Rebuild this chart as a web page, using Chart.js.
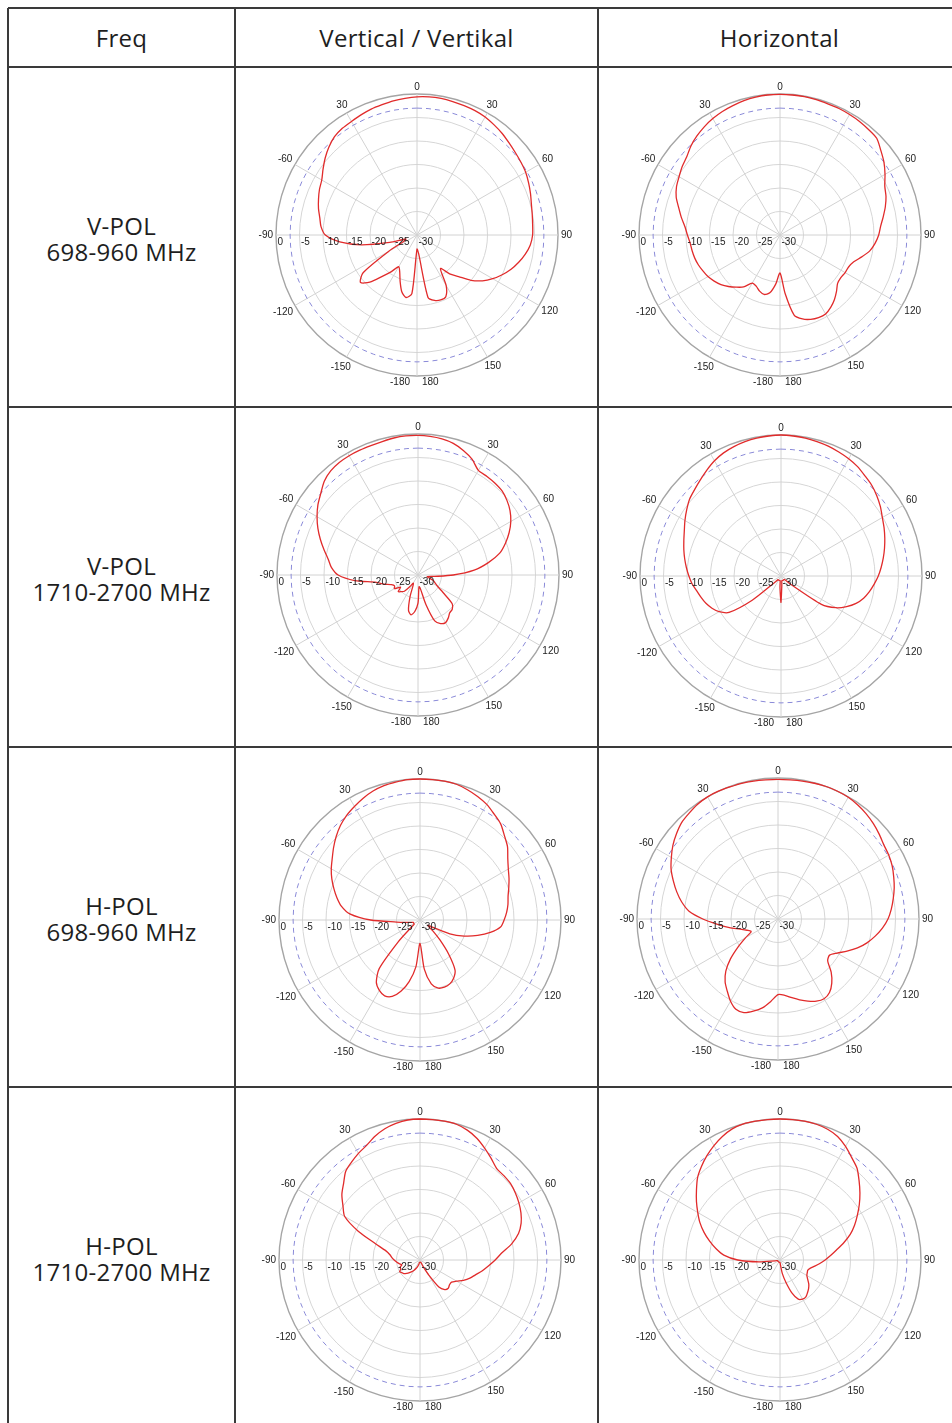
<!DOCTYPE html>
<html>
<head>
<meta charset="utf-8">
<script src="https://cdn.jsdelivr.net/npm/chart.js@4.4.1/dist/chart.umd.min.js"></script>
<style>
html, body { margin: 0; padding: 0; background: #fff; overflow: hidden; width: 952px; height: 1423px; }
#sheet { position: relative; width: 952px; height: 1423px; }
.line { position: absolute; background: #3a3a3a; }
.txt { position: absolute; display: flex; align-items: center; justify-content: center; text-align: center;
       font-family: "Open Sans", sans-serif; font-size: 24px; line-height: 26px; color: #1e1e1e; letter-spacing: 0.3px; }
canvas { position: absolute; }
</style>
</head>
<body>
<div id="sheet"></div>
<script>
// Data
const headers = ['Freq', 'Vertical / Vertikal', 'Horizontal'];
const rowTitles = [
  ['V-POL', '698-960 MHz'],
  ['V-POL', '1710-2700 MHz'],
  ['H-POL', '698-960 MHz'],
  ['H-POL', '1710-2700 MHz']
];

// azimuth in degrees, clockwise from top
const angles = [0, 5, 10, 15, 20, 25, 30, 35, 40, 45, 50, 55,
  60, 65, 70, 75, 80, 85, 90, 95, 100, 105, 110, 115,
  120, 125, 130, 135, 140, 145, 150, 155, 160, 165, 170, 175,
  180, 185, 190, 195, 200, 205, 210, 215, 220, 225, 230, 235,
  240, 245, 250, 255, 260, 265, 270, 275, 280, 285, 290, 295,
  300, 305, 310, 315, 320, 325, 330, 335, 340, 345, 350, 355];

const dbTicks = [0, -5, -10, -15, -20, -25, -30];
const angleTicks = ['0', '30', '60', '90', '120', '150', '-180 180', '-150', '-120', '-90', '-60', '30'];
const halfPower = -3;

// patterns in dB (one value per angle)
const vpolLowVert = [-0.6, -0.5, -0.5, -0.6, -0.7, -0.8, -1.0, -1.4, -1.8, -2.3, -2.7, -3.0,
  -3.3, -3.8, -4.3, -4.8, -5.1, -5.3, -5.4, -5.8, -6.6, -7.6, -8.7, -10.0,
  -11.4, -13.0, -15.0, -17.5, -19.2, -21.3, -17.6, -15.5, -15.3, -15.6, -16.5, -26,
  -27, -17.5, -16.5, -17.5, -19.5, -21.3, -22.2, -20.5, -18.5, -15.8, -14.3, -16,
  -23, -27, -27.5, -24, -18, -13.5, -10.5, -9.5, -9.0, -8.3, -7.7, -7.1,
  -6.6, -5.6, -4.5, -3.5, -2.7, -2.3, -2.1, -1.8, -1.5, -1.3, -1.0, -0.8];

const vpolLowHoriz = [-0.1, -0.1, -0.1, -0.2, -0.3, -0.3, -0.4, -0.5, -0.7, -0.9, -2.0, -3.0,
  -4.2, -5.4, -6.0, -6.8, -7.7, -8.5, -9.0, -9.7, -10.6, -12.0, -13.3, -13.9,
  -14.0, -14.2, -14.0, -13.0, -12.0, -11.2, -10.6, -10.6, -10.9, -11.5, -12.7, -17.5,
  -21.9, -19.5, -17.5, -16.9, -17.3, -18.0, -18.2, -16.5, -15.5, -14.5, -13.6, -12.9,
  -12.3, -11.9, -11.5, -11.2, -11.0, -10.8, -10.3, -9.7, -8.7, -7.7, -6.5, -5.7,
  -5.2, -4.6, -4.1, -3.2, -2.5, -1.9, -1.4, -1.0, -0.7, -0.4, -0.2, -0.1];

const vpolHighVert = [-0.3, -0.4, -0.6, -1.0, -1.8, -2.8, -4.3, -4.4, -4.5, -4.7, -5.3, -6.1,
  -7.2, -8.6, -10.2, -12.0, -14.8, -18, -22.5, -26.5, -28, -27.5, -26.5, -26,
  -25.2, -23.5, -20.5, -19.7, -19.5, -18.8, -18.3, -18.6, -19.6, -23.5, -27, -27.5,
  -24, -22.2, -21.4, -22.2, -25, -27.5, -28, -27, -25.5, -25, -24.5, -25.5,
  -24.2, -24.5, -24, -22.5, -21, -16.5, -13, -11.5, -10.6, -9.3, -7.9, -6.5,
  -5.2, -4.0, -3.0, -1.8, -1.1, -0.8, -0.7, -0.7, -0.7, -0.6, -0.4, -0.3];

const vpolHighHoriz = [0, -0.1, -0.2, -0.4, -0.6, -0.9, -1.2, -1.6, -2.2, -2.7, -3.4, -4.2,
  -5.1, -5.8, -6.5, -7.2, -7.9, -8.6, -9.3, -10.1, -10.9, -11.8, -13.0, -14.6,
  -16.5, -19.5, -27, -29, -29, -29, -29, -29, -29, -29, -29, -28,
  -24.4, -27.5, -29, -29, -29, -29, -29, -29, -29, -28, -22, -16.5,
  -14.8, -13.8, -13.0, -12.4, -11.8, -11.0, -10.4, -9.8, -9.2, -8.6, -8.0, -7.3,
  -6.4, -5.5, -4.6, -4.0, -3.3, -2.5, -1.7, -1.1, -0.7, -0.4, -0.2, -0.1];

const hpolLowVert = [0, 0, 0, -0.1, -0.5, -1.0, -1.6, -2.5, -3.3, -4.6, -5.7, -7.2,
  -8.3, -9.1, -9.9, -10.6, -11.0, -11.5, -12.1, -12.8, -14.8, -17.3, -20, -23,
  -27, -28, -26.5, -24, -20.5, -17, -15.7, -15.0, -14.8, -15.0, -16.2, -19.5,
  -25, -20, -16.7, -14.3, -12.7, -12.2, -12.7, -13.8, -16.5, -23.5, -27.5, -28.5,
  -28.5, -28.5, -28.5, -28, -27, -25, -19.5, -15, -13, -11.7, -10.5, -9.3,
  -8.2, -7.2, -6.0, -4.8, -3.7, -2.8, -2.1, -1.4, -0.8, -0.4, -0.2, 0];

const hpolLowHoriz = [-0.3, -0.3, -0.2, -0.1, 0, 0, -0.1, -0.4, -0.8, -1.3, -1.9, -2.5,
  -2.8, -3.2, -3.8, -4.4, -5.1, -5.8, -6.6, -7.7, -9.0, -10.4, -12.0, -13.8,
  -15.5, -16.6, -16.2, -14.0, -12.2, -10.9, -10.4, -10.7, -11.4, -12.2, -13.0, -13.7,
  -13.9, -12.4, -10.8, -9.7, -8.8, -8.8, -9.8, -11.2, -12.5, -14.3, -16.8, -19.6,
  -22, -23.7, -23, -21.7, -19.5, -17.1, -14, -11, -9.2, -7.7, -6.3, -4.9,
  -3.8, -2.7, -1.8, -1.0, -0.6, -0.2, 0, 0, -0.1, -0.1, -0.2, -0.3];

const hpolHighVert = [0, 0, 0, -0.1, -0.6, -1.4, -2.5, -3.6, -4.6, -4.7, -4.8, -5.2,
  -5.7, -6.3, -7.1, -8.3, -10.2, -12.5, -14.0, -15.4, -16.6, -17.8, -18.7, -19.8,
  -21, -21.8, -21.8, -21.5, -21.8, -23, -26.5, -28.5, -29.5, -29.5, -29.5, -29.5,
  -29.5, -29.5, -29.5, -29, -28.5, -28, -27.5, -27, -26.5, -26, -25.5, -25.3,
  -25.0, -25.5, -25.5, -26, -25.5, -25, -24.5, -24, -23.5, -22.5, -20, -15.5,
  -11.5, -10.0, -8.3, -7.0, -5.4, -4.6, -3.8, -3.1, -2.0, -1.1, -0.5, -0.1];

const hpolHighHoriz = [0, 0, 0, -0.1, -0.4, -1.0, -2.1, -3.4, -4.5, -6.2, -7.8, -9.4,
  -11, -12.5, -14.1, -16, -17.8, -19.2, -20.4, -21.5, -22.5, -23.3, -23.7, -23.6,
  -23.4, -22.8, -22.0, -21.4, -20.9, -20.4, -20.4, -20.8, -22.5, -25, -27, -29,
  -29.5, -29.5, -29.5, -29.5, -29.5, -29.5, -29.5, -29.5, -29.5, -29.5, -29.5, -29.5,
  -29.5, -29.5, -29.5, -29.5, -29, -25.5, -21, -18, -16.2, -14.5, -12.8, -11.2,
  -9.8, -8.3, -6.8, -5.2, -4.0, -2.9, -1.9, -1.0, -0.3, 0, 0, 0];

const patterns = [vpolLowVert, vpolLowHoriz, vpolHighVert, vpolHighHoriz,
  hpolLowVert, hpolLowHoriz, hpolHighVert, hpolHighHoriz];

// Layout
const colX = [8, 235, 598, 961];
const rowY = [8, 67, 407, 747, 1087, 1427];
const centers = [[417, 235], [780, 235], [418, 575], [781, 576],
  [420, 920], [778, 919], [420, 1260], [780, 1260]];
const CANVAS = 340, RADIUS = 141;

const sheet = document.getElementById('sheet');

function addLine(x, y, w, h) {
  const d = document.createElement('div');
  d.className = 'line';
  d.style.left = x + 'px'; d.style.top = y + 'px';
  d.style.width = w + 'px'; d.style.height = h + 'px';
  sheet.appendChild(d);
}
colX.forEach(x => addLine(x - 0.75, rowY[0], 1.5, rowY[rowY.length - 1] - rowY[0]));
rowY.forEach(y => addLine(colX[0], y - 0.75, colX[colX.length - 1] - colX[0], 1.5));

function addText(html, x0, x1, y0, y1) {
  const d = document.createElement('div');
  d.className = 'txt';
  d.style.left = x0 + 'px'; d.style.width = (x1 - x0) + 'px';
  d.style.top = y0 + 'px'; d.style.height = (y1 - y0) + 'px';
  d.innerHTML = html;
  sheet.appendChild(d);
}
headers.forEach((h, i) => addText(h, colX[i], colX[i + 1], rowY[0], rowY[1]));
rowTitles.forEach((t, i) => addText(t.join('<br>'), colX[0], colX[1], rowY[i + 1] + 2, rowY[i + 2] + 2));

// labels around the polar plot
const polarLabels = {
  id: 'polarLabels',
  afterDraw(chart) {
    const r = chart.scales.r;
    const ctx = chart.ctx;
    ctx.save();
    ctx.font = '10px "Liberation Sans", Arial, sans-serif';
    ctx.fillStyle = '#222';

    // dB ticks along the left radius
    ctx.textAlign = 'left';
    ctx.textBaseline = 'top';
    dbTicks.forEach(v => {
      const d = r.getDistanceFromCenterForValue(v);
      ctx.fillText(String(v), r.xCenter - d + 1.5, r.yCenter + 2);
    });

    // azimuth labels
    ctx.textBaseline = 'middle';
    angleTicks.forEach((t, k) => {
      const idx = k * 6;
      if (t.indexOf(' ') > 0) {
        const parts = t.split(' ');
        const y = r.yCenter + r.drawingArea + 6;
        ctx.textAlign = 'right';
        ctx.fillText(parts[0], r.xCenter - 7, y);
        ctx.textAlign = 'left';
        ctx.fillText(parts[1], r.xCenter + 5, y);
        return;
      }
      const w = ctx.measureText(t).width;
      const edge = r.getPointPosition(idx, r.drawingArea);
      const sx = (edge.x - r.xCenter) / r.drawingArea;
      const sy = (edge.y - r.yCenter) / r.drawingArea;
      const off = 3 + Math.abs(sx) * w / 2 + Math.abs(sy) * 4;
      const p = r.getPointPosition(idx, r.drawingArea + off);
      ctx.textAlign = 'center';
      ctx.fillText(t, p.x, p.y);
    });
    ctx.restore();
  }
};

function drawPattern(values, cx, cy) {
  const canvas = document.createElement('canvas');
  canvas.width = CANVAS; canvas.height = CANVAS;
  canvas.style.left = (cx - CANVAS / 2) + 'px';
  canvas.style.top = (cy - CANVAS / 2) + 'px';
  sheet.appendChild(canvas);
  const pad = CANVAS / 2 - RADIUS;

  new Chart(canvas.getContext('2d'), {
    type: 'radar',
    data: {
      labels: angles,
      datasets: [{
        label: 'Pattern',
        data: values,
        borderColor: '#e12b2b',
        borderWidth: 1.3,
        pointRadius: 0,
        fill: false,
        tension: 0.25
      }, {
        label: '-3 dB',
        data: angles.map(() => halfPower),
        borderColor: '#8a8ad8',
        borderWidth: 1,
        borderDash: [5, 4],
        pointRadius: 0,
        fill: false,
        tension: 0
      }]
    },
    options: {
      responsive: false,
      animation: false,
      layout: { padding: pad },
      plugins: { legend: { display: false }, tooltip: { enabled: false } },
      scales: {
        r: {
          min: -30,
          max: 0,
          ticks: { display: false, stepSize: 5 },
          pointLabels: { display: false },
          grid: {
            circular: true,
            color: c => (c.tick && c.tick.value === 0) ? '#a5a5a5' : '#d6d6d6',
            lineWidth: c => (c.tick && c.tick.value === 0) ? 1.4 : 1
          },
          angleLines: {
            display: true,
            color: c => (c.index % 6 === 0) ? '#d2d2d2' : 'rgba(0,0,0,0)',
            lineWidth: c => (c.index % 6 === 0) ? 1 : 0
          }
        }
      }
    },
    plugins: [polarLabels]
  });
}

patterns.forEach((p, i) => drawPattern(p, centers[i][0], centers[i][1]));
</script>
</body>
</html>
